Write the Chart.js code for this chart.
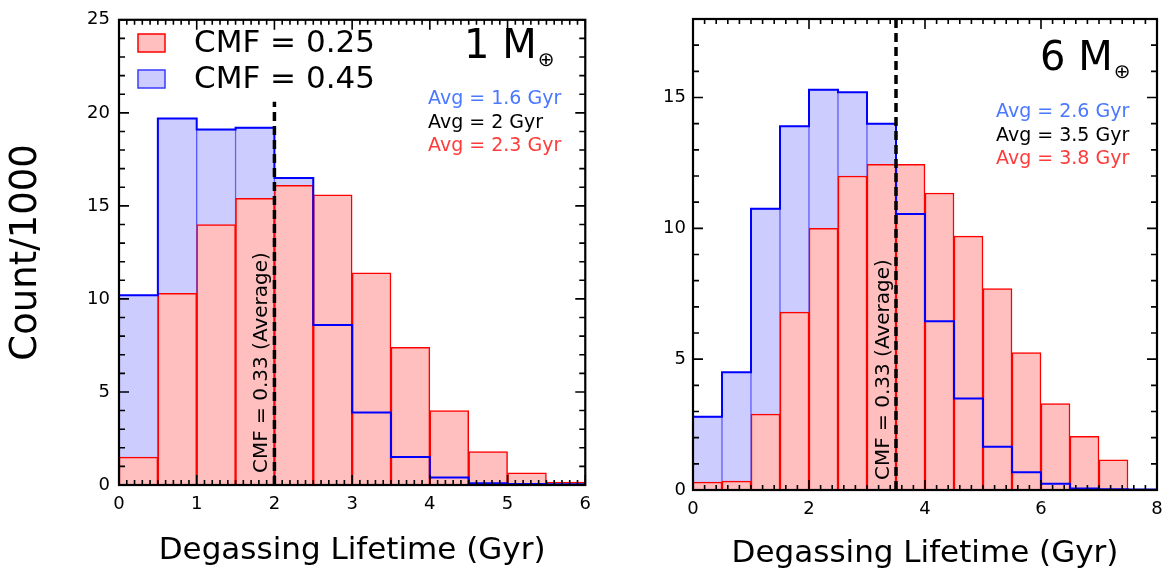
<!DOCTYPE html>
<html>
<head>
<meta charset="utf-8">
<script src="https://cdn.jsdelivr.net/npm/chart.js@4.4.1/dist/chart.umd.min.js"></script>
<style>
  body { margin: 0; background: #fff; width: 1175px; height: 574px; overflow: hidden; position: relative; }
  .panel { position: absolute; top: 0; height: 574px; }
</style>
</head>
<body>
<div class="panel" style="left:0;width:600px"><canvas id="c1"></canvas></div>
<div class="panel" style="left:600px;width:575px"><canvas id="c2"></canvas></div>
<script>
const FONT = 'DejaVu Sans';
const binWidth = 0.5;

// 1 Earth mass (count/1000 per 0.5 Gyr bin, starting at 0)
const leftBlue = [10.2, 19.7, 19.1, 19.2, 16.5, 8.6, 3.9, 1.5, 0.4, 0.1, 0.05, 0.04];
const leftRed  = [1.5, 10.3, 14.0, 15.4, 16.1, 15.6, 11.4, 7.4, 4.0, 1.8, 0.65, 0.16];

// 6 Earth mass
const rightBlue = [2.8, 4.5, 10.75, 13.9, 15.3, 15.2, 14.0, 10.55, 6.45, 3.5, 1.65, 0.68, 0.24, 0.06, 0.03, 0.02];
const rightRed  = [0.3, 0.34, 2.9, 6.8, 10.0, 12.0, 12.45, 12.45, 11.35, 9.7, 7.7, 5.25, 3.3, 2.05, 1.15, 0];

// CMF = 0.33 average lifetimes (dashed lines)
const leftAvg = 2, leftAvgTop = 20.6;
const rightAvg = 3.5, rightAvgTop = 18;

const leftAvgText = ['Avg = 1.6 Gyr', 'Avg = 2 Gyr', 'Avg = 2.3 Gyr'];
const rightAvgText = ['Avg = 2.6 Gyr', 'Avg = 3.5 Gyr', 'Avg = 3.8 Gyr'];
const legendLabels = ['CMF = 0.25', 'CMF = 0.45'];
const avgLineLabel = 'CMF = 0.33 (Average)';
const xTitle = 'Degassing Lifetime (Gyr)';
const yTitle = 'Count/1000';

const RED_FILL = '#ffbfbf', BLUE_FILL = '#ccccff';
const BLUE_TXT = '#4a78ff', RED_TXT = '#ff3c3c';

function bars(vals) {
  return vals.map((v, i) => ({x: (i + 0.5) * binWidth, y: v}));
}
function outline(vals) {
  const pts = [{x: 0, y: 0}];
  vals.forEach((v, i) => pts.push({x: i * binWidth, y: v}));
  pts.push({x: vals.length * binWidth, y: vals[vals.length - 1]});
  return pts;
}

// box + inward ticks on all four sides
function framePlugin(xMinor, xMajor, yMinor, yMajor) {
  return {
    id: 'frame',
    afterDatasetsDraw(chart) {
      const {ctx, chartArea: a, scales: {x, y}} = chart;
      ctx.save();
      ctx.strokeStyle = '#000';
      ctx.lineWidth = 1.6;
      ctx.beginPath();
      let n = Math.round((x.max - x.min) / xMinor);
      for (let i = 0; i <= n; i++) {
        const v = x.min + i * xMinor;
        const big = Math.abs(v / xMajor - Math.round(v / xMajor)) < 1e-6;
        const len = big ? 10 : 5;
        const px = x.getPixelForValue(v);
        ctx.moveTo(px, a.bottom); ctx.lineTo(px, a.bottom - len);
        ctx.moveTo(px, a.top); ctx.lineTo(px, a.top + len);
      }
      n = Math.round((y.max - y.min) / yMinor);
      for (let i = 0; i <= n; i++) {
        const v = y.min + i * yMinor;
        const big = Math.abs(v / yMajor - Math.round(v / yMajor)) < 1e-6;
        const len = big ? 10 : 6;
        const py = y.getPixelForValue(v);
        ctx.moveTo(a.left, py); ctx.lineTo(a.left + len, py);
        ctx.moveTo(a.right, py); ctx.lineTo(a.right - len, py);
      }
      ctx.stroke();
      ctx.lineWidth = 2.2;
      ctx.strokeRect(a.left, a.top, a.right - a.left, a.bottom - a.top);
      ctx.restore();
    }
  };
}

function textPlugin(o) {
  return {
    id: 'notes',
    afterDraw(chart) {
      const {ctx, chartArea: a, scales: {x}} = chart;
      ctx.save();
      // legend
      if (o.legend) {
        ctx.lineWidth = 1.5;
        ctx.fillStyle = RED_FILL; ctx.strokeStyle = '#ff0000';
        ctx.fillRect(138, 34, 27, 18); ctx.strokeRect(138, 34, 27, 18);
        ctx.fillStyle = BLUE_FILL; ctx.strokeStyle = '#3b3bff';
        ctx.fillRect(138, 70, 27, 18); ctx.strokeRect(138, 70, 27, 18);
        ctx.fillStyle = '#000';
        ctx.font = `31px "${FONT}"`;
        ctx.textBaseline = 'alphabetic';
        ctx.fillText(legendLabels[0], 194, 52);
        ctx.fillText(legendLabels[1], 194, 88);
      }
      // planet mass label
      ctx.fillStyle = '#000';
      ctx.font = `40px "${FONT}"`;
      ctx.textBaseline = 'alphabetic';
      ctx.fillText(o.mass + ' M', o.massX, o.massY);
      const w = ctx.measureText(o.mass + ' M').width;
      ctx.font = `20px "${FONT}"`;
      ctx.fillText('\u2295', o.massX + w + 1, o.massY + 8);
      // averages
      ctx.font = `19px "${FONT}"`;
      [BLUE_TXT, '#000', RED_TXT].forEach((c, i) => {
        ctx.fillStyle = c;
        ctx.fillText(o.avgText[i], o.avgX, o.avgY + i * 23.5);
      });
      // rotated label next to dashed line
      ctx.fillStyle = '#000';
      ctx.font = `20px "${FONT}"`;
      ctx.translate(x.getPixelForValue(o.avg) - 7, a.bottom - o.rotOff);
      ctx.rotate(-Math.PI / 2);
      ctx.textAlign = 'left';
      ctx.fillText(avgLineLabel, 0, 0);
      ctx.restore();
    }
  };
}

function makePanel(id, p) {
  const barOpts = {barPercentage: 1, categoryPercentage: 1, grouped: false};
  return new Chart(document.getElementById(id), {
    type: 'bar',
    data: {
      datasets: [
        {type: 'line', data: [{x: p.avg, y: 0}, {x: p.avg, y: p.avgTop}], borderColor: '#000',
          borderWidth: 3.5, borderDash: [9, 5], pointRadius: 0, order: 0},
        {type: 'line', data: outline(p.blue), stepped: 'before', borderColor: '#0000ff',
          borderWidth: 2, pointRadius: 0, fill: false, order: 1},
        Object.assign({data: bars(p.red), backgroundColor: RED_FILL, borderColor: '#ff0000',
          borderWidth: 1.5, order: 2}, barOpts),
        Object.assign({data: bars(p.blue), backgroundColor: BLUE_FILL, borderColor: 'rgba(40,40,255,0.7)',
          borderWidth: 1, order: 3}, barOpts)
      ]
    },
    options: {
      animation: false,
      responsive: true,
      maintainAspectRatio: false,
      layout: {padding: {left: 0, right: p.padRight, top: p.padTop, bottom: 0}},
      plugins: {legend: {display: false}, tooltip: {enabled: false}},
      scales: {
        x: {
          type: 'linear', min: 0, max: p.xMax, offset: false,
          grid: {display: false, drawTicks: false}, border: {display: false},
          ticks: {stepSize: p.xStep, includeBounds: false, padding: 9, color: '#000', maxRotation: 0,
            font: {family: FONT, size: 18}},
          title: {display: true, text: xTitle, color: '#000', font: {family: FONT, size: 31},
            padding: {top: 0, bottom: p.xTitlePad}},
          afterFit: s => { s.height = p.xHeight; }
        },
        y: {
          min: 0, max: p.yMax,
          grid: {display: false, drawTicks: false}, border: {display: false},
          ticks: {stepSize: 5, includeBounds: false, padding: p.yTickPad, color: '#000',
            font: {family: FONT, size: 18}},
          title: {display: p.yTitle, text: yTitle, color: '#000', font: {family: FONT, size: 37},
            padding: {top: 4, bottom: 0}},
          afterFit: s => { s.width = p.yWidth; }
        }
      }
    },
    plugins: [framePlugin(p.xMinor, p.xStep, 1, 5), textPlugin(p.notes)]
  });
}

makePanel('c1', {
  blue: leftBlue, red: leftRed, avg: leftAvg, avgTop: leftAvgTop,
  xMax: 6, xStep: 1, xMinor: 0.1, yMax: 25,
  padRight: 10, padTop: 15, xHeight: 89, yWidth: 119, yTickPad: 9, xTitlePad: 4, yTitle: true,
  notes: {legend: true, mass: '1', massX: 464, massY: 58, avgText: leftAvgText, avgX: 428, avgY: 104,
    avg: leftAvg, rotOff: 12}
});

makePanel('c2', {
  blue: rightBlue, red: rightRed, avg: rightAvg, avgTop: rightAvgTop,
  xMax: 8, xStep: 2, xMinor: 0.2, yMax: 18,
  padRight: 18, padTop: 19, xHeight: 84, yWidth: 93, yTickPad: 7, xTitlePad: 1, yTitle: false,
  notes: {legend: false, mass: '6', massX: 440, massY: 70, avgText: rightAvgText, avgX: 396, avgY: 117,
    avg: rightAvg, rotOff: 10}
});
</script>
</body>
</html>
